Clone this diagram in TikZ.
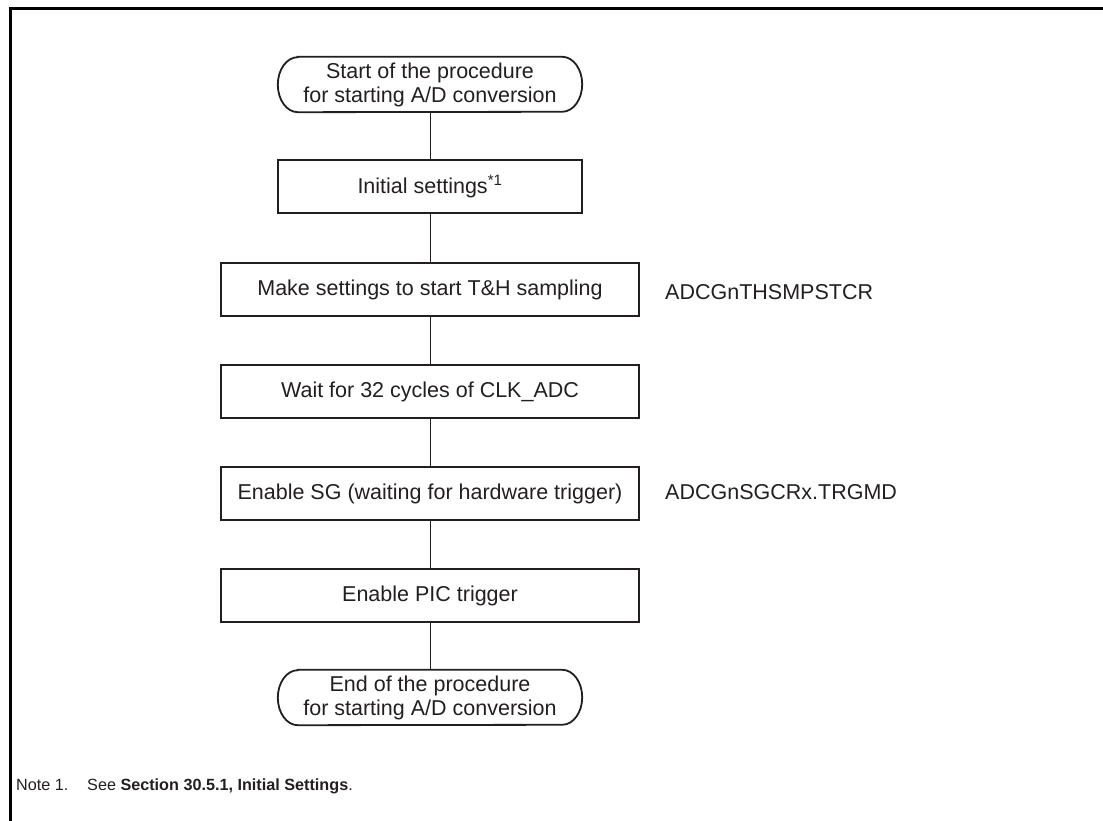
\documentclass[tikz,border=0pt]{standalone}
\usepackage{fontspec}
\setmainfont{Liberation Sans}
\definecolor{ink}{HTML}{231F20}
\begin{document}
\begin{tikzpicture}[x=1pt,y=1pt,
  every node/.style={text=ink, font=\fontsize{21.5}{24}\selectfont},
  procbox/.style={draw=ink, line width=1.8pt, minimum width=418pt, minimum height=53pt, inner sep=0pt, align=center},
  smallbox/.style={procbox, minimum width=304pt},
  termtext/.style={minimum width=304pt, minimum height=55pt, inner sep=0pt, align=center},
  termline/.style={draw=ink, line width=1.8pt},
  conn/.style={draw=ink, line width=1pt},
  reglabel/.style={anchor=west, inner sep=0pt},
  frameline/.style={draw=black, line width=3pt}]
\useasboundingbox (0,0) rectangle (1103,821);
% frame (top and left edges)
\draw[frameline] (1110,812) -- (10,812) -- (10,-10);
% nodes
\node[termtext] (start) at (430,736.5) {Start of the procedure\\for starting A/D conversion};
\node[smallbox] (init) at (430,634.5) {Initial settings\textsuperscript{*1}};
\node[procbox] (ths) at (430,531.5) {Make settings to start T\&H sampling};
\node[procbox] (wait) at (430,429.5) {Wait for 32 cycles of CLK\_ADC};
\node[procbox] (sg) at (430,327.5) {Enable SG (waiting for hardware trigger)};
\node[procbox] (pic) at (430,225.5) {Enable PIC trigger};
\node[termtext] (end) at (430,123.5) {End of the procedure\\for starting A/D conversion};
% terminal outlines
\foreach \t in {start,end}{
  \draw[termline] ([xshift=20pt]\t.north west) -- ([xshift=-20pt]\t.north east)
    arc[start angle=90, end angle=-90, x radius=20pt, y radius=27.5pt]
    -- ([xshift=20pt]\t.south west)
    arc[start angle=270, end angle=90, x radius=20pt, y radius=27.5pt] -- cycle;
}
% register labels
\node[reglabel] (lths) at (665,529) {ADCGnTHSMPSTCR};
\node[reglabel] (lsg) at (665,329) {ADCGnSGCRx.TRGMD};
% connectors
\draw[conn] (start) -- (init);
\draw[conn] (init) -- (ths);
\draw[conn] (ths) -- (wait);
\draw[conn] (wait) -- (sg);
\draw[conn] (sg) -- (pic);
\draw[conn] (pic) -- (end);
% note
\node[anchor=base west, inner sep=0pt, font=\fontsize{16.2}{19}\selectfont] (note1) at (16,30) {Note 1.};
\node[anchor=base west, inner sep=0pt, font=\fontsize{16.2}{19}\selectfont] (note2) at (87,30) {See \textbf{Section 30.5.1, Initial Settings}.};
\end{tikzpicture}
\end{document}
